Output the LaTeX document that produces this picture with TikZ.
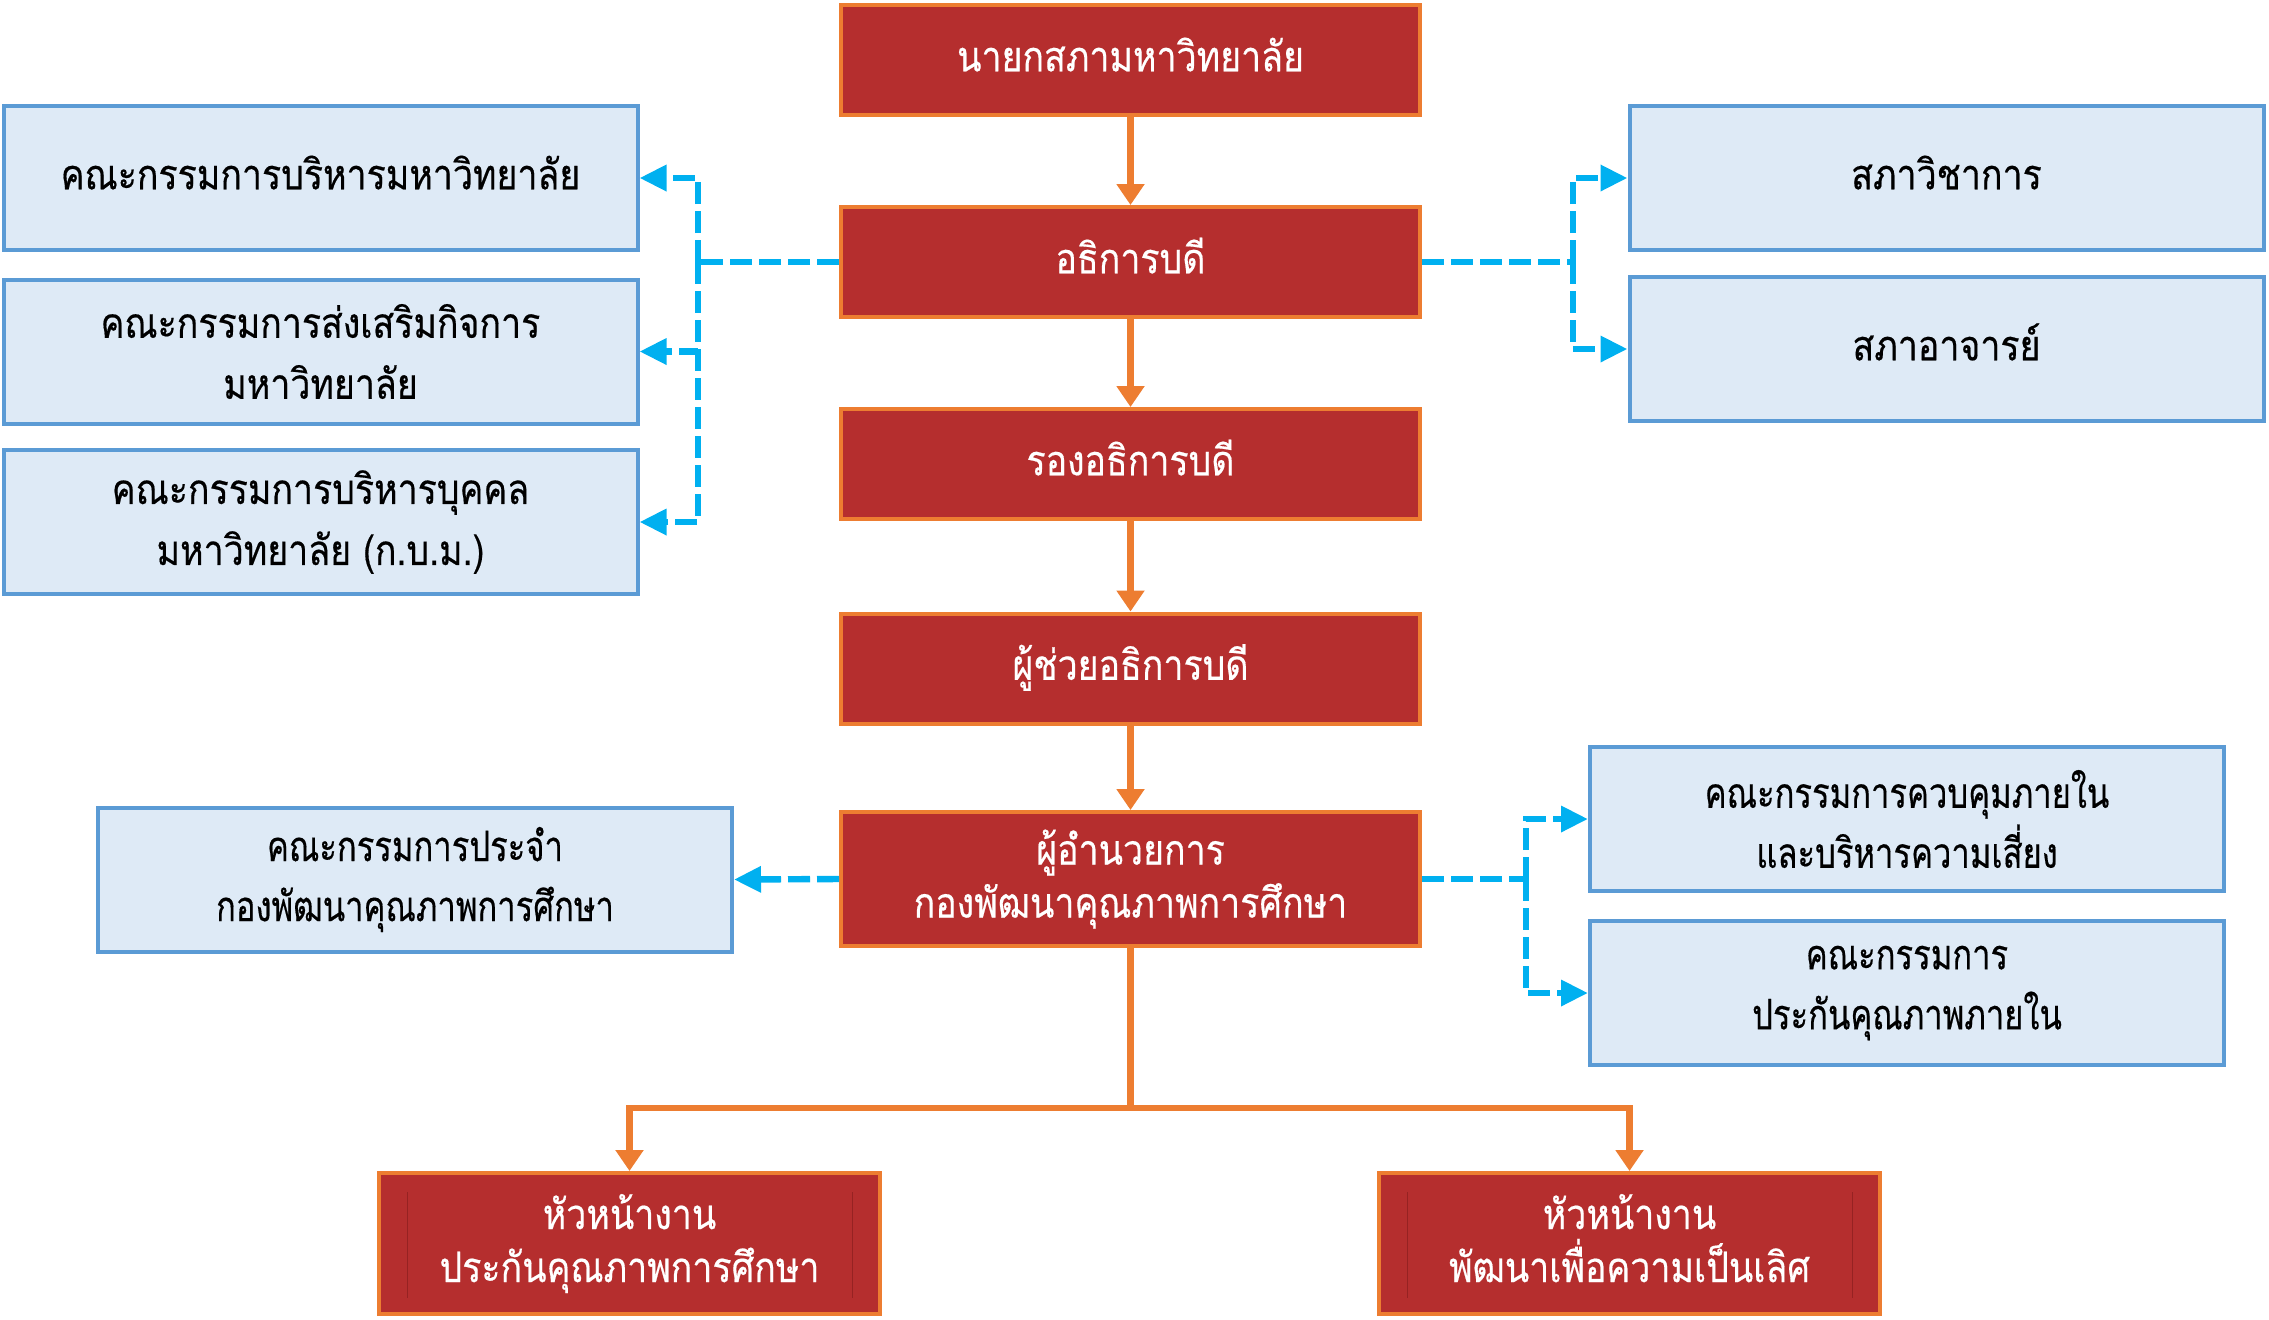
\documentclass[tikz,border=0pt]{standalone}
\usepackage{fontspec}
\newfontfamily\thaiA[Script=Thai,FakeStretch=0.85,FakeBold=0.4]{Loma}
\newfontfamily\thaiB[Script=Thai,FakeStretch=0.78,FakeBold=0.4]{Loma}
\usetikzlibrary{arrows.meta}
\definecolor{boxred}{RGB}{181,46,46}
\definecolor{boxorange}{RGB}{237,125,49}
\definecolor{boxblue}{RGB}{222,234,246}
\definecolor{blueline}{RGB}{91,155,213}
\definecolor{dashblue}{RGB}{0,176,240}
\definecolor{innerred}{RGB}{150,34,34}
\tikzset{
  redbox/.style={draw=boxorange, fill=boxred, line width=2pt, text=white,
    minimum width=289.5pt, minimum height=55pt, align=center, inner sep=0pt,
    font=\thaiA\fontsize{21}{26.5}\selectfont},
  bluebox/.style={draw=blueline, fill=boxblue, line width=2pt, text=black,
    minimum width=317pt, minimum height=72pt, align=center, inner sep=0pt,
    font=\thaiA\fontsize{21}{30.5}\selectfont},
  lowblue/.style={bluebox, font=\thaiB\fontsize{21}{30}\selectfont},
  oneline/.style={text height=11.3pt, text depth=0pt},
  orangeline/.style={draw=boxorange, line width=3.25pt},
  orangearrow/.style={orangeline, -{Triangle[length=10.5pt,width=13.5pt]}},
  blueline/.style={draw=dashblue, line width=3.2pt, dash pattern=on 11pt off 3.5pt},
  bluearrow/.style={blueline, -{Triangle[length=13.5pt,width=12.5pt]}},
  innerline/.style={draw=innerred, line width=0.5pt}
}
\begin{document}
\begin{tikzpicture}[x=0.5pt,y=-0.5pt]
\useasboundingbox (0,0) rectangle (2269,1319);
% red chain
\node[redbox,oneline] (n1) at (1130.5,60) {นายกสภามหาวิทยาลัย};
\node[redbox,oneline] (n2) at (1130.5,262) {อธิการบดี};
\node[redbox,oneline] (n3) at (1130.5,464) {รองอธิการบดี};
\node[redbox,oneline] (n4) at (1130.5,668.5) {ผู้ช่วยอธิการบดี};
\node[redbox, minimum height=67pt] (n5) at (1130.5,879) {ผู้อำนวยการ\\กองพัฒนาคุณภาพการศึกษา};
\node[redbox, minimum width=250.5pt, minimum height=70.5pt] (b1) at (629.5,1243.5) {หัวหน้างาน\\ประกันคุณภาพการศึกษา};
\node[redbox, minimum width=250.5pt, minimum height=70.5pt] (b2) at (1629.5,1243.5) {หัวหน้างาน\\พัฒนาเพื่อความเป็นเลิศ\vphantom{คุ}};
\draw[innerline] ([xshift=15pt,yshift=-10.5pt]b1.north west) -- ([xshift=15pt,yshift=9pt]b1.south west);
\draw[innerline] ([xshift=-15pt,yshift=-10.5pt]b1.north east) -- ([xshift=-15pt,yshift=9pt]b1.south east);
\draw[innerline] ([xshift=15pt,yshift=-10.5pt]b2.north west) -- ([xshift=15pt,yshift=9pt]b2.south west);
\draw[innerline] ([xshift=-15pt,yshift=-10.5pt]b2.north east) -- ([xshift=-15pt,yshift=9pt]b2.south east);
% blue boxes
\node[bluebox,oneline] (L1) at (320.5,178) {คณะกรรมการบริหารมหาวิทยาลัย};
\node[bluebox] (L2) at (320.5,351.5) {คณะกรรมการส่งเสริมกิจการ\\มหาวิทยาลัย};
\node[bluebox] (L3) at (320.5,522) {คณะกรรมการบริหารบุคคล\\มหาวิทยาลัย (ก.บ.ม.)};
\node[bluebox,oneline] (R1) at (1946.5,178) {สภาวิชาการ};
\node[bluebox,oneline] (R2) at (1946.5,349) {สภาอาจารย์};
\node[lowblue] (C1) at (415,879.5) {คณะกรรมการประจำ\\กองพัฒนาคุณภาพการศึกษา};
\node[lowblue] (D1) at (1907,819) {คณะกรรมการควบคุมภายใน\\และบริหารความเสี่ยง};
\node[lowblue] (D2) at (1907,993) {คณะกรรมการ\\ประกันคุณภาพภายใน};
% orange connectors
\draw[orangearrow] (n1) -- (n2);
\draw[orangearrow] (n2) -- (n3);
\draw[orangearrow] (n3) -- (n4);
\draw[orangearrow] (n4) -- (n5);
\coordinate (tj) at (1130.5,1108);
\draw[orangeline] (n5.south) -- (tj);
\draw[orangearrow] (tj) -| (b1.north);
\draw[orangearrow] (tj) -| (b2.north);
% dashed connectors
\coordinate (jl) at (698,262);
\coordinate (jr) at (1573,262);
\coordinate (jd) at (1526,879);
\draw[blueline] (n2.west) -- (jl);
\draw[bluearrow] (jl) |- (L1.east);
\draw[bluearrow] (jl) |- (L2.east);
\draw[bluearrow] (jl) |- (L3.east);
\draw[blueline] (n2.east) -- (jr);
\draw[bluearrow] (jr) |- (R1.west);
\draw[bluearrow] (jr) |- (R2.west);
\draw[bluearrow] (n5.west) -- (C1.east);
\draw[blueline] (n5.east) -- (jd);
\draw[bluearrow] (jd) |- (D1.west);
\draw[bluearrow] (jd) |- (D2.west);
\end{tikzpicture}
\end{document}
